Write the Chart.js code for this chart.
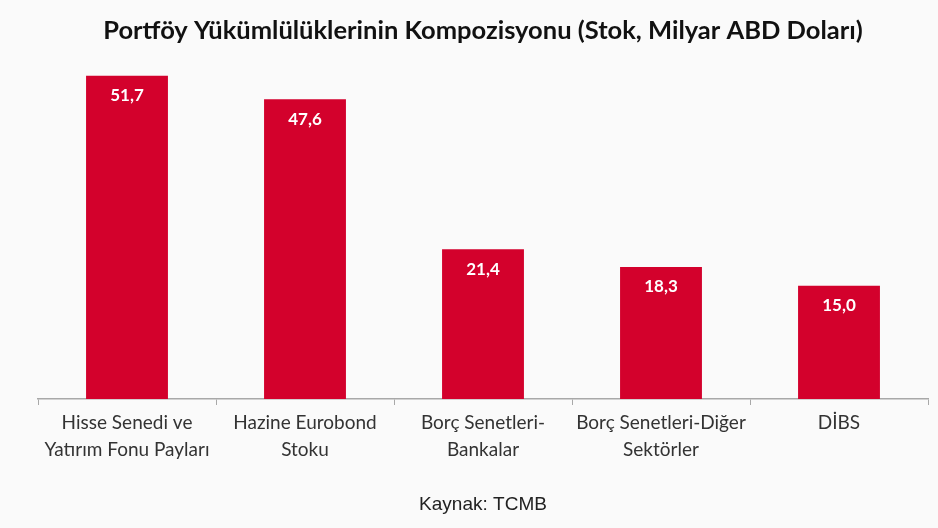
<!DOCTYPE html>
<html>
<head>
<meta charset="utf-8">
<script src="https://cdn.jsdelivr.net/npm/chart.js@4"></script>
<style>
  html,body{margin:0;padding:0;background:#fafafa;}
  #wrap{width:938px;height:528px;position:relative;}
</style>
</head>
<body>
<div id="wrap"><canvas id="c" width="938" height="528"></canvas></div>
<script>
const categories = [
  ['Hisse Senedi ve','Yatırım Fonu Payları'],
  ['Hazine Eurobond','Stoku'],
  ['Borç Senetleri-','Bankalar'],
  ['Borç Senetleri-Diğer','Sektörler'],
  ['DİBS']
];
const values = [51.7, 47.6, 21.4, 18.3, 15.0];
const titleText = 'Portföy Yükümlülüklerinin Kompozisyonu (Stok, Milyar ABD Doları)';
const sourceText = 'Kaynak: TCMB';

const barRed = '#d3012c';
const axisMin = -4.8;

// white value labels inside the top of each bar
const valueLabels = {
  id:'valueLabels',
  afterDatasetsDraw(chart){
    const ctx = chart.ctx;
    const meta = chart.getDatasetMeta(0);
    ctx.save();
    ctx.fillStyle = '#ffffff';
    ctx.font = 'bold 17px Lato';
    ctx.textAlign = 'center';
    ctx.textBaseline = 'middle';
    meta.data.forEach((bar,i)=>{
      ctx.fillText(values[i].toFixed(1).replace('.',','), bar.x, bar.y + 20);
    });
    ctx.restore();
  }
};

new Chart(document.getElementById('c'), {
  type:'bar',
  data:{
    labels: categories,
    datasets:[{data: values, backgroundColor: barRed, base: axisMin, categoryPercentage:1, barPercentage:0.46}]
  },
  options:{
    responsive:false,
    animation:false,
    layout:{padding:{left:38, right:10, top:0, bottom:0}},
    plugins:{
      legend:{display:false},
      tooltip:{enabled:false},
      title:{display:true, text:titleText, color:'#111', font:{family:'Lato', size:25.5, weight:'bold'}, padding:{top:15, bottom:11.4}},
      subtitle:{display:true, position:'bottom', text:sourceText, color:'#222', font:{family:'"Liberation Sans", Arial', size:19}, padding:{top:0, bottom:11.6}}
    },
    scales:{
      x:{
        grid:{drawOnChartArea:false, drawTicks:true, tickLength:6, color:'#a8a8a8'},
        border:{display:true, color:'#a8a8a8', width:1.5},
        ticks:{color:'#333', font:{family:'Lato', size:19, lineHeight:1.42}, padding:4, maxRotation:0, autoSkip:false},
        afterFit(scale){ scale.height = 94.6; }
      },
      y:{display:false, min:axisMin, max:55}
    }
  },
  plugins:[valueLabels]
});
</script>
</body>
</html>
